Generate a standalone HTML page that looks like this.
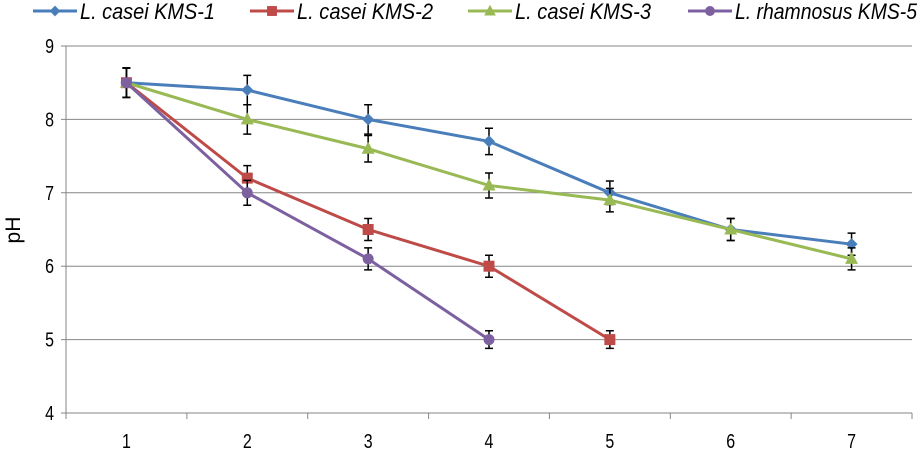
<!DOCTYPE html>
<html><head><meta charset="utf-8"><style>
html,body{margin:0;padding:0;background:#fff;}
svg{display:block;font-family:"Liberation Sans",Arial,sans-serif;}
</style></head><body>
<svg id="chart" width="923" height="450"></svg>
<script>
const categories=[1,2,3,4,5,6,7];
const yTicks=[4,5,6,7,8,9];
const seriesNames=["L. casei KMS-1","L. casei KMS-2","L. casei KMS-3","L. rhamnosus KMS-5"];
const kms1=[8.5,8.4,8.0,7.7,7.0,6.5,6.3];
const kms1Err=[0.2,0.2,0.2,0.18,0.16,0.15,0.15];
const kms2=[8.5,7.2,6.5,6.0,5.0];
const kms2Err=[0.2,0.17,0.15,0.15,0.12];
const kms3=[8.5,8.0,7.6,7.1,6.9,6.5,6.1];
const kms3Err=[0.2,0.2,0.18,0.17,0.16,0.15,0.15];
const kms5=[8.5,7.0,6.1,5.0];
const kms5Err=[0.2,0.17,0.15,0.12];
const colors=["#4a7ebb","#be4b48","#98b954","#7d60a0"];
const markers=["diamond","square","triangle","circle"];
const allSeries=[kms1,kms2,kms3,kms5];
const allErr=[kms1Err,kms2Err,kms3Err,kms5Err];

const NS="http://www.w3.org/2000/svg";
const svg=document.getElementById("chart");
const L=66,R=912,T=46,B=413,yMin=4,yMax=9;
const xs=i=>L+(R-L)/categories.length*(i+0.5);
const ys=v=>B-(v-yMin)/(yMax-yMin)*(B-T);
function mk(tag,attrs,parent){const e=document.createElementNS(NS,tag);for(const k in attrs)e.setAttribute(k,attrs[k]);(parent||svg).appendChild(e);return e;}

const grid=mk("g",{});


yTicks.forEach(t=>{
  mk("line",{x1:L-5,x2:R,y1:ys(t),y2:ys(t),stroke:"#868686","stroke-width":1},grid);
  const tx=mk("text",{x:L-12,y:ys(t)+7,"text-anchor":"end","font-size":20,fill:"#000",transform:`translate(${L-12} 0) scale(0.8 1) translate(${-(L-12)} 0)`});
  tx.textContent=t;
  
  
});
const yAxis=mk("line",{x1:L,x2:L,y1:T,y2:B,stroke:"#868686","stroke-width":1});


for(let i=0;i<=categories.length;i++){
  const x=L+(R-L)/categories.length*i;
  mk("line",{x1:x,x2:x,y1:B,y2:B+6,stroke:"#868686"});
}
categories.forEach((c,i)=>{
  const x=xs(i);
  const tx=mk("text",{x:x,y:B+35,"text-anchor":"middle","font-size":20,transform:`translate(${x} 0) scale(0.8 1) translate(${-x} 0)`});
  tx.textContent=c;
  
  
});
const yt=mk("text",{x:20,y:230,"text-anchor":"middle","font-size":21,transform:"rotate(-90 20 230)"});
yt.textContent="pH";



function marker(type,x,y,color,parent,s){
  s=s||1;
  if(type==="diamond")return mk("polygon",{points:`${x},${y-6*s} ${x+6*s},${y} ${x},${y+6*s} ${x-6*s},${y}`,fill:color},parent);
  if(type==="square")return mk("rect",{x:x-5.5*s,y:y-5.5*s,width:11*s,height:11*s,fill:color},parent);
  if(type==="triangle")return mk("polygon",{points:`${x},${y-7*s} ${x+6.5*s},${y+5*s} ${x-6.5*s},${y+5*s}`,fill:color},parent);
  return mk("circle",{cx:x,cy:y,r:5.5*s,fill:color},parent);
}

allSeries.forEach((data,si)=>{
  const g=mk("g",{});
  
  
  const pts=data.map((v,i)=>xs(i)+","+ys(v)).join(" ");
  mk("polyline",{points:pts,fill:"none",stroke:colors[si],"stroke-width":3},g);
  data.forEach((v,i)=>{
    const x=xs(i),e=allErr[si][i];
    mk("path",{d:`M${x},${ys(v+e)}V${ys(v-e)}M${x-4},${ys(v+e)}H${x+4}M${x-4},${ys(v-e)}H${x+4}`,stroke:"#000","stroke-width":1.5,fill:"none"},g);
  });
  data.forEach((v,i)=>{
    const m=marker(markers[si],xs(i),ys(v),colors[si],g);
    
    
  });
});

const legX=[33,250,468,688];
const legW=[135,136,136,182];
seriesNames.forEach((n,i)=>{
  const g=mk("g",{});
  
  
  mk("line",{x1:legX[i],x2:legX[i]+44,y1:11,y2:11,stroke:colors[i],"stroke-width":3},g);
  marker(markers[i],legX[i]+22,11,colors[i],g,0.9);
  const t=mk("text",{x:legX[i]+47,y:19,"font-size":22,"font-style":"italic",textLength:legW[i],lengthAdjust:"spacingAndGlyphs"},g);
  t.textContent=n;
});
</script>
</body></html>
